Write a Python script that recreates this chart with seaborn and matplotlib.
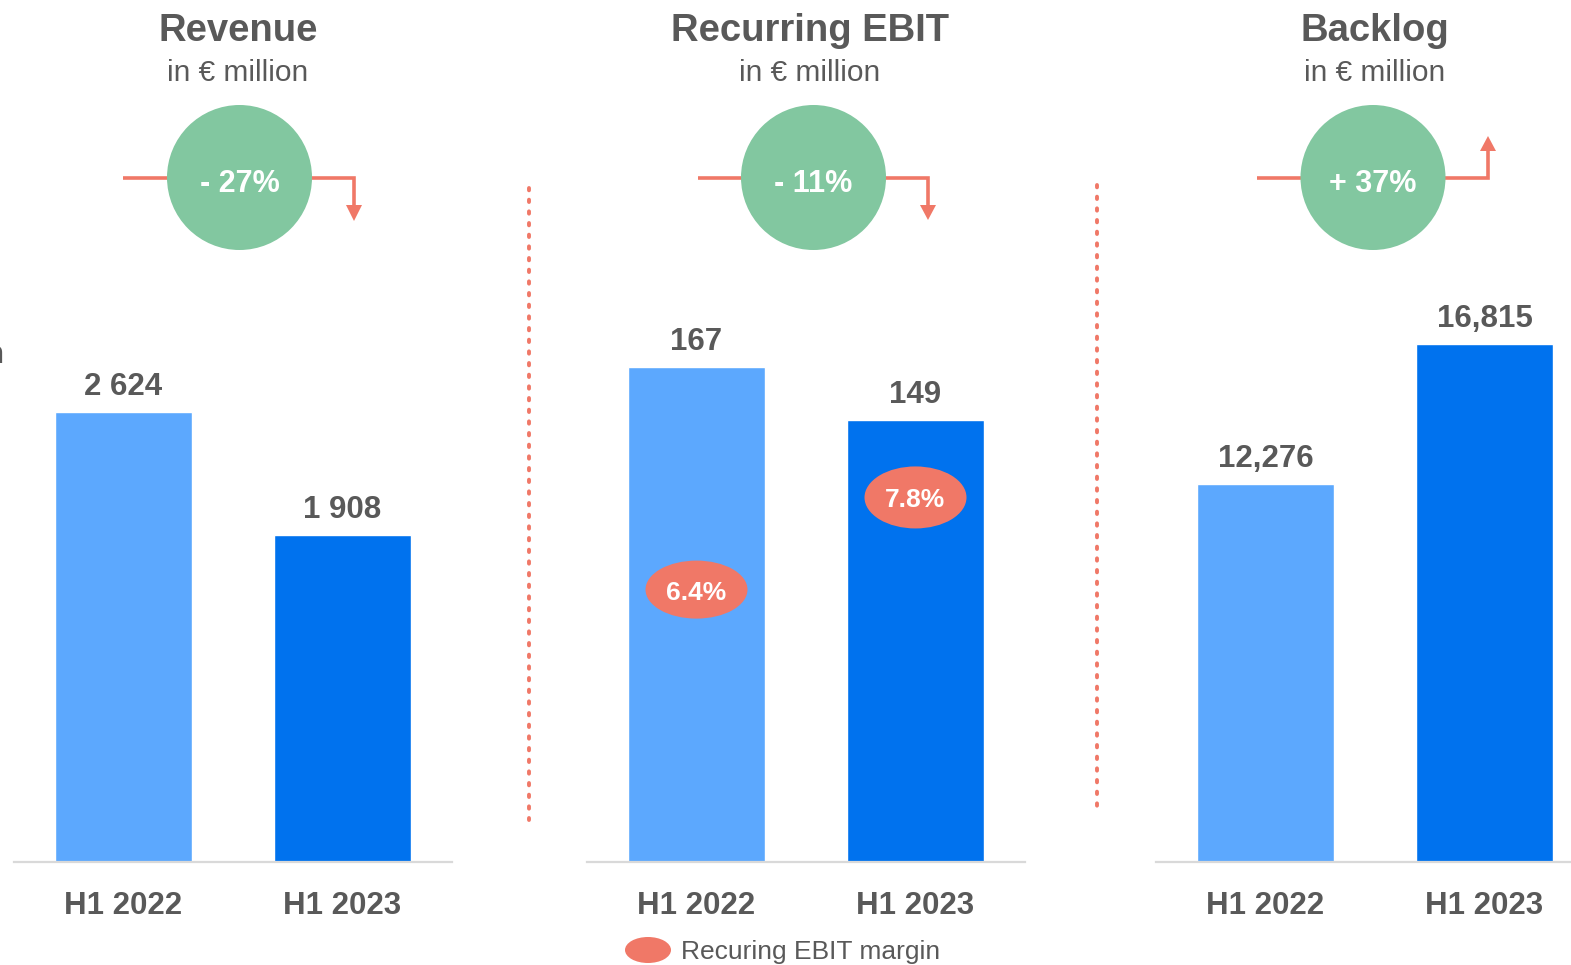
import matplotlib
matplotlib.use("Agg")
import matplotlib.pyplot as plt
import seaborn as sns
from matplotlib.patches import Circle, Ellipse, Polygon

# ---------------- data ----------------
periods = ["H1 2022", "H1 2023"]
revenue = [2624, 1908]
revenue_labels = ["2 624", "1 908"]
ebit = [167, 149]
ebit_labels = ["167", "149"]
backlog = [12276, 16815]
backlog_labels = ["12,276", "16,815"]
ebit_margin = ["6.4%", "7.8%"]
changes = ["- 27%", "- 11%", "+ 37%"]
titles = ["Revenue", "Recurring EBIT", "Backlog"]
subtitle = "in € million"
legend_label = "Recuring EBIT margin"

# ---------------- style ----------------
sns.set_style("white")
plt.rcParams["font.family"] = ["Liberation Sans", "DejaVu Sans"]

W, H = 1571, 965
GRAY = "#595959"
LIGHT = "#5CA8FE"
DARK = "#0072EE"
GREEN = "#82C7A0"
SALMON = "#F07867"
AXLINE = "#D9D9D9"

fig = plt.figure(figsize=(W / 100, H / 100), dpi=100)
fig.patch.set_facecolor("white")

base_px = 862
top_px = 300
ax_w = 438
lefts = [14, 587, 1156]
ymaxs = [3275, 189.5, 18244]
datasets = [(revenue, revenue_labels), (ebit, ebit_labels), (backlog, backlog_labels)]

axes = []
for left, ymax, (vals, labs) in zip(lefts, ymaxs, datasets):
    ax = fig.add_axes([left / W, (H - base_px) / H, ax_w / W, (base_px - top_px) / H])
    sns.barplot(x=periods, y=vals, hue=periods, palette=[LIGHT, DARK],
                legend=False, width=0.625, saturation=1, ax=ax)
    ax.set_xlim(-0.5, 1.5)
    ax.set_ylim(0, ymax)
    ax.set_facecolor("none")
    for s in ["top", "left", "right"]:
        ax.spines[s].set_visible(False)
    ax.spines["bottom"].set_color(AXLINE)
    ax.spines["bottom"].set_linewidth(1.6)
    ax.set_yticks([])
    ax.set_xlabel("")
    ax.set_ylabel("")
    ax.tick_params(axis="x", length=0, pad=21, labelsize=22.5, labelcolor=GRAY)
    for t in ax.get_xticklabels():
        t.set_fontweight("bold")
    # value labels
    for i, (v, lab) in enumerate(zip(vals, labs)):
        ax.annotate(lab, xy=(i, v), xytext=(0, 7), textcoords="offset points",
                    ha="center", va="bottom", fontsize=22.5, fontweight="bold",
                    color=GRAY)
    axes.append(ax)

# ---------------- overlay ----------------
ov = fig.add_axes([0, 0, 1, 1], zorder=5)
ov.set_xlim(0, W)
ov.set_ylim(0, H)
ov.axis("off")
ov.patch.set_alpha(0)

def Y(y):  # convert top-origin pixel to bottom-origin
    return H - y

# titles
title_x = [238, 810, 1375]
for tx, t in zip(title_x, titles):
    ov.text(tx, Y(31), t, ha="center", va="center", fontsize=27.5,
            fontweight="bold", color=GRAY)
    ov.text(tx, Y(73), subtitle, ha="center", va="center", fontsize=21.5,
            color=GRAY)

# stray clipped text on the far left
ov.text(4, Y(355), "n", ha="right", va="center", fontsize=22.5,
        fontweight="bold", color=GRAY)

# change circles and arrows
circ = [(239.5, 177.5), (813.5, 177.5), (1373, 177.5)]
r = 72.5
line_y = 178
arrows = [
    (123, 354, 205, 221),   # left start, right x, head base y, tip y
    (698, 928, 205, 220),
    (1257, 1488, 151, 136),
]
for (cx, cy), txt, (lx, rx, hb, tip) in zip(circ, changes, arrows):
    ov.plot([lx, cx], [Y(line_y), Y(line_y)], color=SALMON, lw=2.6,
            solid_capstyle="butt", zorder=1)
    ov.plot([cx, rx, rx], [Y(line_y), Y(line_y), Y(hb)], color=SALMON, lw=2.6,
            solid_joinstyle="miter", solid_capstyle="butt", zorder=1)
    ov.add_patch(Polygon([[rx - 8, Y(hb)], [rx + 8, Y(hb)], [rx, Y(tip)]],
                         closed=True, color=SALMON, lw=0, zorder=1))
    ov.add_patch(Circle((cx, Y(cy)), r, color=GREEN, lw=0, zorder=2))
    ov.text(cx, Y(cy + 6), txt, ha="center", va="center", fontsize=22,
            fontweight="bold", color="white", zorder=3)

# dotted separators
for sx, y0, y1 in [(529, 188, 820), (1097, 185, 815)]:
    ov.plot([sx, sx], [Y(y0), Y(y1)], color=SALMON, lw=2.8,
            linestyle=(0, (0.6, 2.4)), dash_capstyle="round")

# EBIT margin ellipses inside the EBIT bars (position as fraction of bar height)
margin_pos = [0.55, 0.825]
ell_h = [58, 62]
ax2 = axes[1]
for i, (frac, lab, eh) in enumerate(zip(margin_pos, ebit_margin, ell_h)):
    px, py = ax2.transData.transform((i, ebit[i] * frac))
    ov.add_patch(Ellipse((px, py), 102, eh, color=SALMON, lw=0, zorder=4))
    ov.text(px, py - 3, lab, ha="center", va="center", fontsize=19,
            fontweight="bold", color="white", zorder=5)

# legend
ov.add_patch(Ellipse((648, Y(950)), 46, 26, color=SALMON, lw=0))
ov.text(681, Y(952), legend_label, ha="left", va="center", fontsize=19,
        color=GRAY)

fig.savefig("out.png", dpi=100, facecolor="white")
